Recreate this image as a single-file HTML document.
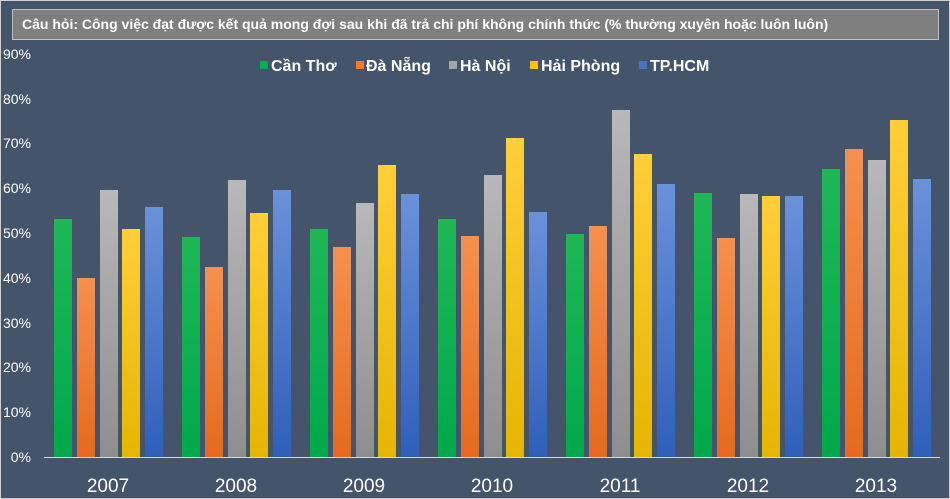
<!DOCTYPE html>
<html><head><meta charset="utf-8"><style>
body{margin:0;background:#44546a;}
svg{display:block;font-family:"Liberation Sans",sans-serif;}
</style></head><body>
<svg width="950" height="499" xmlns="http://www.w3.org/2000/svg">
<defs>
<linearGradient id="g0" x1="0" y1="0" x2="0" y2="1"><stop offset="0" stop-color="#1fb755"/><stop offset="1" stop-color="#00a94a"/></linearGradient>
<linearGradient id="g1" x1="0" y1="0" x2="0" y2="1"><stop offset="0" stop-color="#f59050"/><stop offset="1" stop-color="#e56a1c"/></linearGradient>
<linearGradient id="g2" x1="0" y1="0" x2="0" y2="1"><stop offset="0" stop-color="#b8b8b8"/><stop offset="1" stop-color="#8e8e8e"/></linearGradient>
<linearGradient id="g3" x1="0" y1="0" x2="0" y2="1"><stop offset="0" stop-color="#ffcf3a"/><stop offset="1" stop-color="#e6b400"/></linearGradient>
<linearGradient id="g4" x1="0" y1="0" x2="0" y2="1"><stop offset="0" stop-color="#6a92d8"/><stop offset="1" stop-color="#2f5fba"/></linearGradient>
</defs>
<rect width="950" height="499" fill="#44546a"/>
<rect x="0.5" y="0.5" width="949" height="498" fill="none" stroke="#d0d0d0"/>
<rect x="12.5" y="9.5" width="926" height="30" fill="#7f7f7f" stroke="#bfbfbf"/>
<text x="22" y="29" font-size="14" font-weight="bold" fill="#fff">Câu hỏi: Công việc đạt được kết quả mong đợi sau khi đã trả chi phí không chính thức (% thường xuyên hoặc luôn luôn)</text>
<g font-size="14" fill="#fff" text-anchor="end">
<text x="31" y="462">0%</text><text x="31" y="417">10%</text><text x="31" y="372">20%</text><text x="31" y="328">30%</text><text x="31" y="283">40%</text><text x="31" y="238">50%</text><text x="31" y="193">60%</text><text x="31" y="148">70%</text><text x="31" y="104">80%</text><text x="31" y="59">90%</text>
</g>
<g font-size="16" font-weight="bold" fill="#fff">
<rect x="260" y="61" width="8" height="8" fill="#00b050"/><text x="271" y="71">Cần Thơ</text>
<rect x="356" y="61" width="8" height="8" fill="#f07c2b"/><text x="366" y="71">Đà Nẵng</text>
<rect x="449" y="61" width="8" height="8" fill="#a5a5a5"/><text x="460" y="71">Hà Nội</text>
<rect x="530" y="61" width="8" height="8" fill="#ffc000"/><text x="541" y="71">Hải Phòng</text>
<rect x="639" y="61" width="8" height="8" fill="#4472c4"/><text x="650" y="71">TP.HCM</text>
</g>
<line x1="44" y1="457.5" x2="940" y2="457.5" stroke="#d9d9d9" stroke-width="1"/>
<g font-size="19" fill="#fff" text-anchor="middle">
<text x="108" y="492">2007</text><text x="236" y="492">2008</text><text x="364" y="492">2009</text><text x="492" y="492">2010</text><text x="620" y="492">2011</text><text x="748" y="492">2012</text><text x="876" y="492">2013</text>
</g>
<g>
<rect x="54" y="219" width="18" height="238" fill="url(#g0)"/><rect x="77" y="278" width="18" height="179" fill="url(#g1)"/><rect x="100" y="190" width="18" height="267" fill="url(#g2)"/><rect x="122" y="229" width="18" height="228" fill="url(#g3)"/><rect x="145" y="207" width="18" height="250" fill="url(#g4)"/>
<rect x="182" y="237" width="18" height="220" fill="url(#g0)"/><rect x="205" y="267" width="18" height="190" fill="url(#g1)"/><rect x="228" y="180" width="18" height="277" fill="url(#g2)"/><rect x="250" y="213" width="18" height="244" fill="url(#g3)"/><rect x="273" y="190" width="18" height="267" fill="url(#g4)"/>
<rect x="310" y="229" width="18" height="228" fill="url(#g0)"/><rect x="333" y="247" width="18" height="210" fill="url(#g1)"/><rect x="356" y="203" width="18" height="254" fill="url(#g2)"/><rect x="378" y="165" width="18" height="292" fill="url(#g3)"/><rect x="401" y="194" width="18" height="263" fill="url(#g4)"/>
<rect x="438" y="219" width="18" height="238" fill="url(#g0)"/><rect x="461" y="236" width="18" height="221" fill="url(#g1)"/><rect x="484" y="175" width="18" height="282" fill="url(#g2)"/><rect x="506" y="138" width="18" height="319" fill="url(#g3)"/><rect x="529" y="212" width="18" height="245" fill="url(#g4)"/>
<rect x="566" y="234" width="18" height="223" fill="url(#g0)"/><rect x="589" y="226" width="18" height="231" fill="url(#g1)"/><rect x="612" y="110" width="18" height="347" fill="url(#g2)"/><rect x="634" y="154" width="18" height="303" fill="url(#g3)"/><rect x="657" y="184" width="18" height="273" fill="url(#g4)"/>
<rect x="694" y="193" width="18" height="264" fill="url(#g0)"/><rect x="717" y="238" width="18" height="219" fill="url(#g1)"/><rect x="740" y="194" width="18" height="263" fill="url(#g2)"/><rect x="762" y="196" width="18" height="261" fill="url(#g3)"/><rect x="785" y="196" width="18" height="261" fill="url(#g4)"/>
<rect x="822" y="169" width="18" height="288" fill="url(#g0)"/><rect x="845" y="149" width="18" height="308" fill="url(#g1)"/><rect x="868" y="160" width="18" height="297" fill="url(#g2)"/><rect x="890" y="120" width="18" height="337" fill="url(#g3)"/><rect x="913" y="179" width="18" height="278" fill="url(#g4)"/>
</g>
</svg>
</body></html>
